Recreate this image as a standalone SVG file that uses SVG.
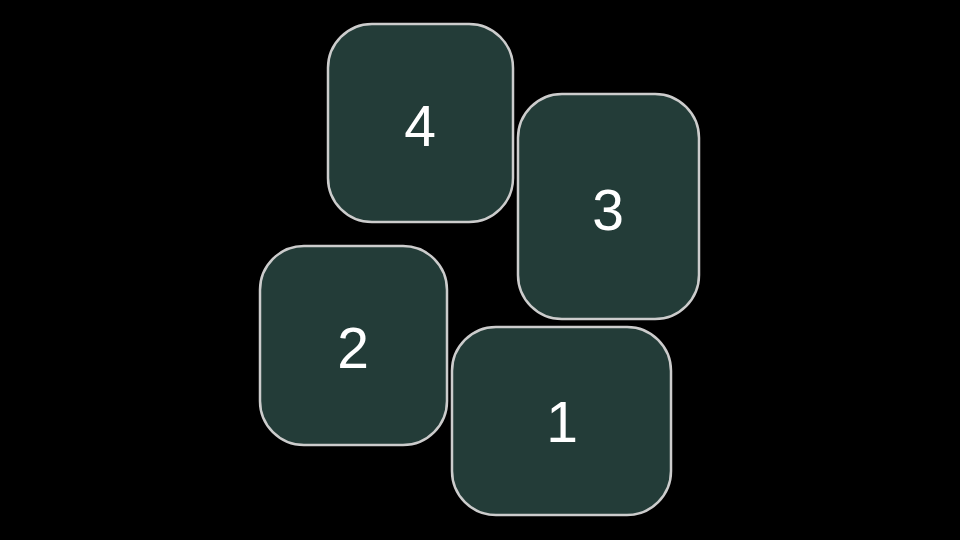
<svg xmlns="http://www.w3.org/2000/svg" width="960" height="540" viewBox="0 0 960 540">
<style>
.box{fill:#233c38;stroke:#cccccc;stroke-width:2.5}
.lbl{fill:#ffffff;font-family:"Liberation Sans",Arial,sans-serif;font-size:57px;text-anchor:middle}
</style>
<rect width="960" height="540" fill="#000000"/>
<g id="node4"><rect class="box" x="328" y="24" width="185" height="198" rx="44"/><text class="lbl" x="420" y="146">4</text></g>
<g id="node3"><rect class="box" x="518" y="94" width="181" height="225" rx="44"/><text class="lbl" x="608" y="230">3</text></g>
<g id="node2"><rect class="box" x="260" y="246" width="187" height="199" rx="44"/><text class="lbl" x="353" y="368">2</text></g>
<g id="node1"><rect class="box" x="452" y="327" width="219" height="188" rx="44"/><text class="lbl" x="562" y="442">1</text></g>
<g id="connectors"/>
</svg>
